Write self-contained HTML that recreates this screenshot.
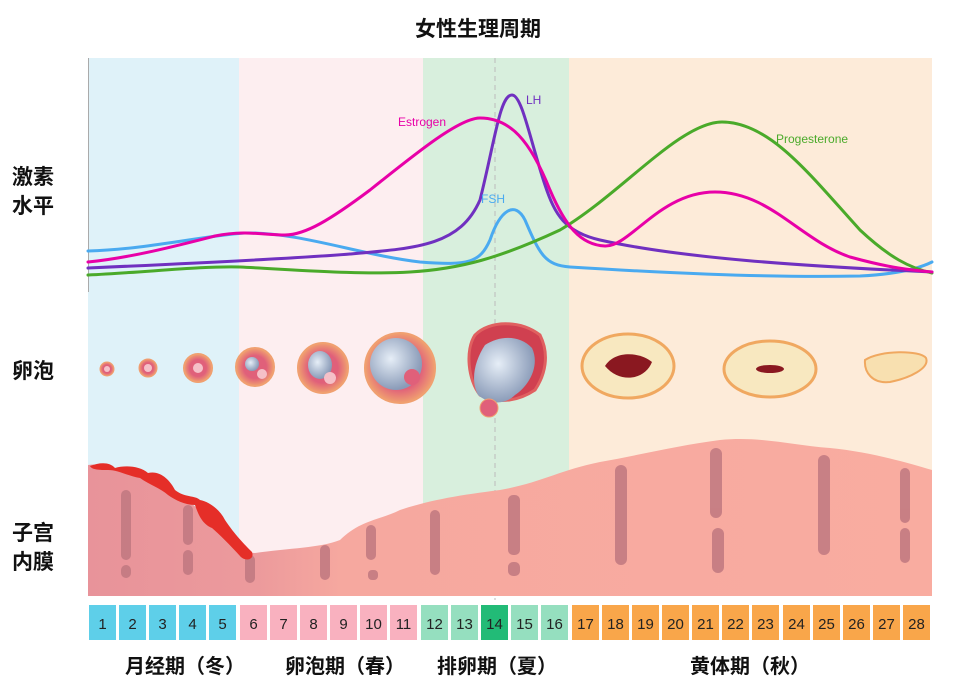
<!DOCTYPE html>
<html><head><meta charset="utf-8"><style>
body{margin:0;background:#fff;}
svg{display:block;font-family:"Liberation Sans","Noto Sans CJK SC",sans-serif;}
</style></head><body>
<svg width="956" height="690" viewBox="0 0 956 690">
<defs>
<linearGradient id="endo" x1="0" x2="1" y1="0" y2="0">
<stop offset="0" stop-color="#e8939a"/><stop offset="0.2" stop-color="#ec9a9c"/><stop offset="0.3" stop-color="#f6a89f"/><stop offset="1" stop-color="#f9aca0"/></linearGradient>
<radialGradient id="fol" cx="0.5" cy="0.5" r="0.5"><stop offset="0.6" stop-color="#e0607a"/><stop offset="1" stop-color="#f0a070"/></radialGradient>
<radialGradient id="cav" cx="0.4" cy="0.4" r="0.6"><stop offset="0" stop-color="#e6eef7"/><stop offset="1" stop-color="#8a9bb8"/></radialGradient>
</defs>
<text x="478" y="36" text-anchor="middle" font-size="21" font-weight="bold" fill="#111">女性生理周期</text>
<rect x="88" y="58" width="151" height="538" fill="#dff2f9"/>
<rect x="239" y="58" width="184" height="538" fill="#fdeef0"/>
<rect x="423" y="58" width="146" height="538" fill="#d8efdd"/>
<rect x="569" y="58" width="363" height="538" fill="#fdebd9"/>
<line x1="88.5" y1="58" x2="88.5" y2="292" stroke="#aaa" stroke-width="1"/>
<line x1="495" y1="58" x2="495" y2="600" stroke="#bbb" stroke-dasharray="5,4"/>
<g fill="none" stroke-width="3" stroke-linecap="round">
<path d="M88,251 C150,249 200,236 245,233 C300,232 360,255 420,262 C470,266 480,262 490,240 C500,210 515,200 525,220 C540,255 545,265 570,267 C650,272 760,278 860,276 C900,274 920,268 932,262" stroke="#4aaaf0"/>
<path d="M88,268 C200,263 300,258 350,254 C420,248 460,245 480,200 C495,140 500,95 512,95 C522,95 530,140 545,185 C555,215 565,232 600,240 C680,258 800,266 932,272" stroke="#7030c0"/>
<path d="M88,275 C150,272 200,266 240,267 C300,270 360,275 410,272 C460,269 500,258 560,230 C620,195 680,122 722,122 C770,122 810,175 860,230 C890,258 910,268 932,273" stroke="#4aaa2a"/>
<path d="M88,262 C130,258 180,245 215,236 C245,230 265,235 285,235 C305,235 330,220 370,190 C420,150 460,118 480,118 C510,118 530,140 550,190 C565,225 580,245 605,246 C630,247 660,192 715,192 C770,192 800,240 850,257 C890,268 910,270 932,272" stroke="#e800a8"/>
</g>
<text x="398" y="126" font-size="12" fill="#e800a8">Estrogen</text>
<text x="526" y="104" font-size="12" fill="#7030c0">LH</text>
<text x="481" y="203" font-size="12" fill="#4aaaf0">FSH</text>
<text x="776" y="143" font-size="12" fill="#4aaa2a">Progesterone</text>
<circle cx="107" cy="369" r="7" fill="url(#fol)" stroke="#f0a070"/><circle cx="107" cy="369" r="3" fill="#f5c0c8"/>
<circle cx="148" cy="368" r="9" fill="url(#fol)" stroke="#f0a070"/><circle cx="148" cy="368" r="4" fill="#f5c0c8"/>
<circle cx="198" cy="368" r="14" fill="url(#fol)" stroke="#f0a070" stroke-width="2"/><circle cx="198" cy="368" r="5" fill="#f5c0c8"/>
<circle cx="255" cy="367" r="19" fill="url(#fol)" stroke="#f0a070" stroke-width="2"/><circle cx="252" cy="364" r="7" fill="url(#cav)"/><circle cx="262" cy="374" r="5" fill="#f5c0c8"/>
<circle cx="323" cy="368" r="25" fill="url(#fol)" stroke="#f0a070" stroke-width="2"/><ellipse cx="320" cy="365" rx="12" ry="14" fill="url(#cav)"/><circle cx="330" cy="378" r="6" fill="#f5c0c8"/>
<circle cx="400" cy="368" r="35" fill="url(#fol)" stroke="#f0a070" stroke-width="2"/><circle cx="396" cy="364" r="26" fill="url(#cav)"/><circle cx="412" cy="377" r="8" fill="#e0607a"/>
<path d="M475,335 C490,320 520,320 540,335 C550,355 545,375 535,390 C520,400 500,405 480,395 C468,380 465,350 475,335Z" fill="#d04050" stroke="#e06060" stroke-width="3"/>
<path d="M485,345 C500,335 520,335 532,348 C540,365 530,385 515,395 C505,405 490,405 478,395 C470,380 475,360 485,345Z" fill="url(#cav)"/>
<circle cx="489" cy="408" r="9" fill="#e0607a" stroke="#f0a070"/>
<ellipse cx="628" cy="366" rx="46" ry="32" fill="#f8e8c0" stroke="#f0a860" stroke-width="3"/><path d="M605,366 C615,350 640,352 652,362 C645,380 620,384 605,366Z" fill="#8a1820"/>
<ellipse cx="770" cy="369" rx="46" ry="28" fill="#f8e8c0" stroke="#f0a860" stroke-width="3"/><ellipse cx="770" cy="369" rx="14" ry="4" fill="#8a1820"/>
<path d="M865,360 C880,350 920,350 926,358 C930,368 910,378 890,382 C872,384 864,372 865,360Z" fill="#f8e0b0" stroke="#f0a860" stroke-width="2"/>
<path d="M88,465 C110,462 130,475 150,480 C180,490 200,510 220,530 C235,545 245,553 255,553 C290,548 320,548 340,540 C360,520 380,520 400,510 C430,500 460,495 500,490 C540,483 560,470 600,462 C640,455 680,445 720,440 C760,436 790,445 830,448 C870,452 905,462 932,470 L932,596 L88,596Z" fill="url(#endo)"/>
<g fill="#c07880" opacity="0.85">
<rect x="121" y="490" width="10" height="70" rx="5"/><rect x="121" y="565" width="10" height="13" rx="5"/>
<rect x="183" y="505" width="10" height="40" rx="5"/><rect x="183" y="550" width="10" height="25" rx="5"/>
<rect x="245" y="555" width="10" height="28" rx="5"/>
<rect x="320" y="545" width="10" height="35" rx="5"/><rect x="366" y="525" width="10" height="35" rx="5"/><rect x="368" y="570" width="10" height="10" rx="4"/>
<rect x="430" y="510" width="10" height="65" rx="5"/><rect x="508" y="495" width="12" height="60" rx="5"/><rect x="508" y="562" width="12" height="14" rx="5"/>
<rect x="615" y="465" width="12" height="100" rx="6"/><rect x="710" y="448" width="12" height="70" rx="6"/><rect x="712" y="528" width="12" height="45" rx="6"/>
<rect x="818" y="455" width="12" height="100" rx="6"/><rect x="900" y="468" width="10" height="55" rx="5"/><rect x="900" y="528" width="10" height="35" rx="5"/>
</g>
<path d="M90,466 C100,462 110,462 115,468 C125,465 140,466 148,473 C160,470 170,480 175,490 C185,498 195,495 200,500 C210,502 220,510 225,520 C235,535 245,545 252,552 C255,560 245,562 240,556 C230,545 220,535 212,528 C205,525 200,520 195,505 C185,505 175,500 168,495 C160,488 150,485 140,478 C128,476 118,470 108,470 C100,470 92,470 90,466Z" fill="#e52e28"/>
<g font-size="15" text-anchor="middle" fill="#222">
<rect x="89" y="605" width="27" height="35" fill="#5ecfe9"/><text x="102.5" y="629">1</text>
<rect x="119" y="605" width="27" height="35" fill="#5ecfe9"/><text x="132.5" y="629">2</text>
<rect x="149" y="605" width="27" height="35" fill="#5ecfe9"/><text x="162.5" y="629">3</text>
<rect x="179" y="605" width="27" height="35" fill="#5ecfe9"/><text x="192.5" y="629">4</text>
<rect x="209" y="605" width="27" height="35" fill="#5ecfe9"/><text x="222.5" y="629">5</text>
<rect x="240" y="605" width="27" height="35" fill="#f9b1bf"/><text x="253.5" y="629">6</text>
<rect x="270" y="605" width="27" height="35" fill="#f9b1bf"/><text x="283.5" y="629">7</text>
<rect x="300" y="605" width="27" height="35" fill="#f9b1bf"/><text x="313.5" y="629">8</text>
<rect x="330" y="605" width="27" height="35" fill="#f9b1bf"/><text x="343.5" y="629">9</text>
<rect x="360" y="605" width="27" height="35" fill="#f9b1bf"/><text x="373.5" y="629">10</text>
<rect x="390" y="605" width="27" height="35" fill="#f9b1bf"/><text x="403.5" y="629">11</text>
<rect x="421" y="605" width="27" height="35" fill="#95dfbf"/><text x="434.5" y="629">12</text>
<rect x="451" y="605" width="27" height="35" fill="#95dfbf"/><text x="464.5" y="629">13</text>
<rect x="481" y="605" width="27" height="35" fill="#22bb77"/><text x="494.5" y="629">14</text>
<rect x="511" y="605" width="27" height="35" fill="#95dfbf"/><text x="524.5" y="629">15</text>
<rect x="541" y="605" width="27" height="35" fill="#95dfbf"/><text x="554.5" y="629">16</text>
<rect x="572" y="605" width="27" height="35" fill="#f9a64a"/><text x="585.5" y="629">17</text>
<rect x="602" y="605" width="27" height="35" fill="#f9a64a"/><text x="615.5" y="629">18</text>
<rect x="632" y="605" width="27" height="35" fill="#f9a64a"/><text x="645.5" y="629">19</text>
<rect x="662" y="605" width="27" height="35" fill="#f9a64a"/><text x="675.5" y="629">20</text>
<rect x="692" y="605" width="27" height="35" fill="#f9a64a"/><text x="705.5" y="629">21</text>
<rect x="722" y="605" width="27" height="35" fill="#f9a64a"/><text x="735.5" y="629">22</text>
<rect x="752" y="605" width="27" height="35" fill="#f9a64a"/><text x="765.5" y="629">23</text>
<rect x="783" y="605" width="27" height="35" fill="#f9a64a"/><text x="796.5" y="629">24</text>
<rect x="813" y="605" width="27" height="35" fill="#f9a64a"/><text x="826.5" y="629">25</text>
<rect x="843" y="605" width="27" height="35" fill="#f9a64a"/><text x="856.5" y="629">26</text>
<rect x="873" y="605" width="27" height="35" fill="#f9a64a"/><text x="886.5" y="629">27</text>
<rect x="903" y="605" width="27" height="35" fill="#f9a64a"/><text x="916.5" y="629">28</text>
</g>
<g font-size="21" font-weight="bold" fill="#111">
<text x="12" y="184">激素</text><text x="12" y="213">水平</text>
<text x="12" y="378">卵泡</text>
<text x="12" y="540">子宫</text><text x="12" y="569">内膜</text>
</g>
<g font-size="20" font-weight="bold" fill="#111" text-anchor="middle">
<text x="185" y="673">月经期（冬）</text>
<text x="345" y="673">卵泡期（春）</text>
<text x="497" y="673">排卵期（夏）</text>
<text x="750" y="673">黄体期（秋）</text>
</g>
</svg>
</body></html>
